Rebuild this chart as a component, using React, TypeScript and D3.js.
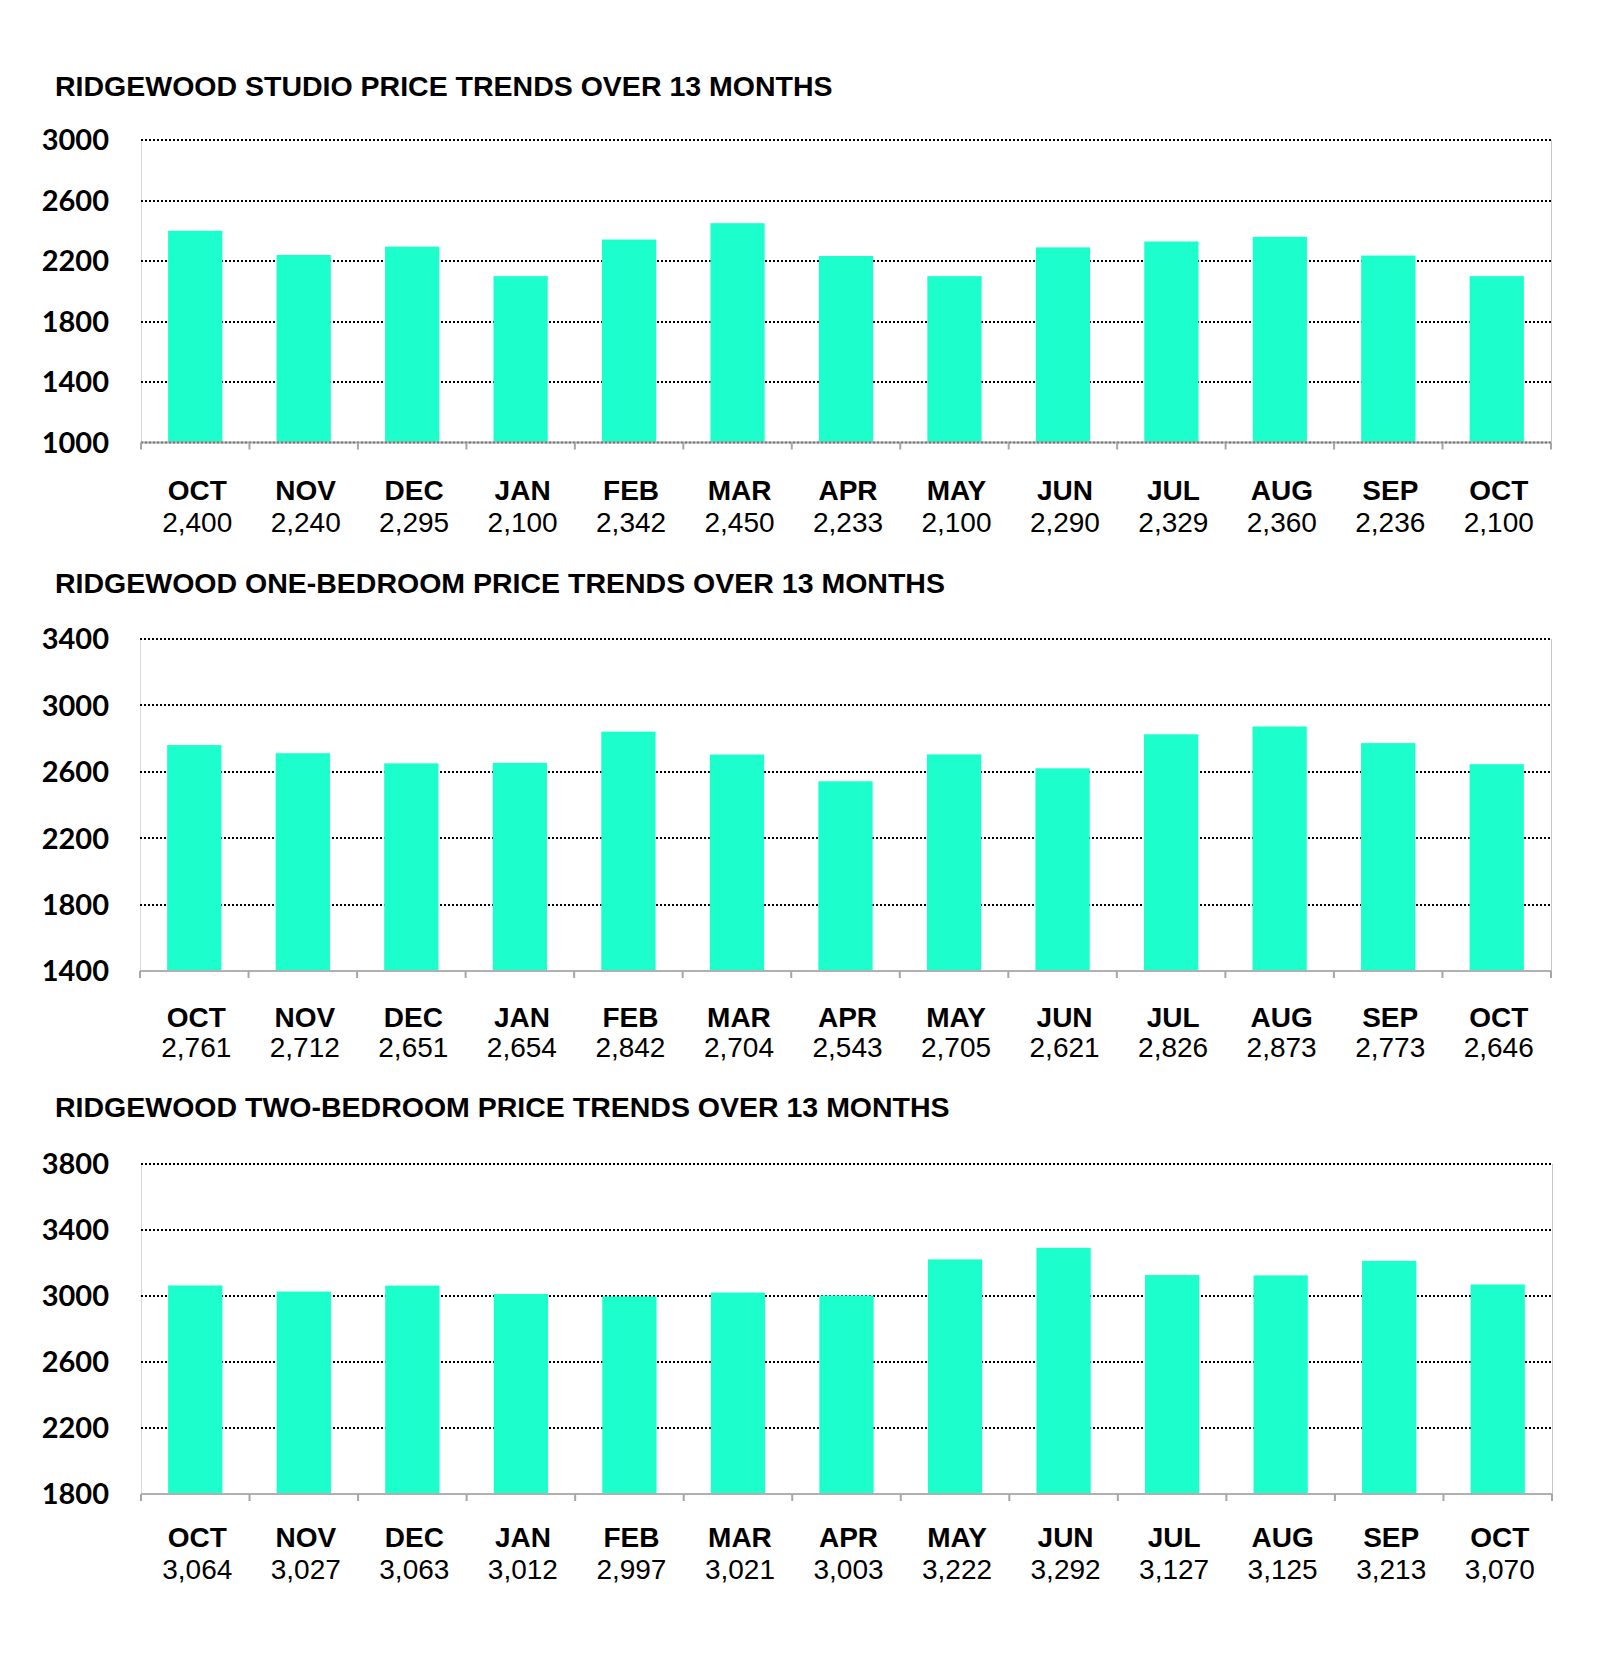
import React from "react";
import * as d3 from "d3";

const months = ["OCT", "NOV", "DEC", "JAN", "FEB", "MAR", "APR", "MAY", "JUN", "JUL", "AUG", "SEP", "OCT"];
const studioValues = [2400, 2240, 2295, 2100, 2342, 2450, 2233, 2100, 2290, 2329, 2360, 2236, 2100];
const oneBedValues = [2761, 2712, 2651, 2654, 2842, 2704, 2543, 2705, 2621, 2826, 2873, 2773, 2646];
const twoBedValues = [3064, 3027, 3063, 3012, 2997, 3021, 3003, 3222, 3292, 3127, 3125, 3213, 3070];
const studioTicks = [1000, 1400, 1800, 2200, 2600, 3000];
const oneBedTicks = [1400, 1800, 2200, 2600, 3000, 3400];
const twoBedTicks = [1800, 2200, 2600, 3000, 3400, 3800];
const titles = [
  "RIDGEWOOD STUDIO PRICE TRENDS OVER 13 MONTHS",
  "RIDGEWOOD ONE-BEDROOM PRICE TRENDS OVER 13 MONTHS",
  "RIDGEWOOD TWO-BEDROOM PRICE TRENDS OVER 13 MONTHS",
];

const BAR = "#1cffcc";
const fmt = d3.format(",");

type Cfg = {
  title: string;
  values: number[];
  ticks: number[];
  titleY: number;
  top: number;
  bottom: number;
  left: number;
  right: number;
  labelY: number;
  valueY: number;
  dottedBottom: boolean;
};

function Panel({ c }: { c: Cfg }) {
  const y = d3.scaleLinear().domain([c.ticks[0], c.ticks[c.ticks.length - 1]]).range([c.bottom, c.top]);
  const x = d3
    .scaleBand<number>()
    .domain(c.values.map((_, i) => i))
    .range([c.left, c.right])
    .paddingInner(0.5)
    .paddingOuter(0.25);
  const step = (c.right - c.left) / c.values.length;
  const bounds = d3.range(c.values.length + 1).map((i) => c.left + i * step);
  return (
    <g>
      <text x={55} y={c.titleY} fontFamily="Liberation Sans, Arial, sans-serif" fontWeight="bold" fontSize={28.5} fill="#000">
        {c.title}
      </text>
      <line x1={c.left + 0.5} x2={c.left + 0.5} y1={c.top} y2={c.bottom} stroke="#d9d9d9" strokeWidth={1} />
      <line x1={c.right + 0.5} x2={c.right + 0.5} y1={c.top} y2={c.bottom} stroke="#c8c8c8" strokeWidth={1} />
      {c.ticks.map((t, i) =>
        i === 0 ? null : (
          <line key={t} x1={c.left} x2={c.right} y1={Math.round(y(t))} y2={Math.round(y(t))} stroke="#000" strokeWidth={2} strokeDasharray="2,2" />
        )
      )}
      {c.values.map((v, i) => (
        <rect key={i} x={x(i)} y={y(v)} width={x.bandwidth()} height={c.bottom - y(v)} fill={BAR} />
      ))}
      <line x1={c.left} x2={c.right} y1={c.bottom} y2={c.bottom} stroke="#b0b0b0" strokeWidth={2} />
      {c.dottedBottom && (
        <line x1={c.left} x2={c.right} y1={c.bottom} y2={c.bottom} stroke="#777" strokeWidth={2} strokeDasharray="2,2" />
      )}
      {bounds.map((b, i) => (
        <line key={i} x1={b} x2={b} y1={c.bottom} y2={c.bottom + 7} stroke="#a6a6a6" strokeWidth={2} />
      ))}
      {c.ticks.map((t) => (
        <text
          key={t}
          x={109}
          y={y(t)}
          dy="0.36em"
          textAnchor="end"
          fontFamily="Lato, Open Sans, sans-serif"
          fontWeight="bold"
          fontSize={29}
          fill="#000"
        >
          {t}
        </text>
      ))}
      {c.values.map((v, i) => {
        const cx = (x(i) as number) + x.bandwidth() / 2 + 2;
        return (
          <g key={i}>
            <text x={cx} y={c.labelY} textAnchor="middle" fontFamily="Liberation Sans, Arial, sans-serif" fontWeight="bold" fontSize={28} fill="#000">
              {months[i]}
            </text>
            <text x={cx} y={c.valueY} textAnchor="middle" fontFamily="Liberation Sans, Arial, sans-serif" fontSize={28} fill="#000">
              {fmt(v)}
            </text>
          </g>
        );
      })}
    </g>
  );
}

export default function App() {
  const cfgs: Cfg[] = [
    { title: titles[0], values: studioValues, ticks: studioTicks, titleY: 96, top: 140, bottom: 442.5, left: 141, right: 1551, labelY: 500, valueY: 532, dottedBottom: true },
    { title: titles[1], values: oneBedValues, ticks: oneBedTicks, titleY: 593, top: 639, bottom: 971, left: 140, right: 1551, labelY: 1027, valueY: 1057, dottedBottom: false },
    { title: titles[2], values: twoBedValues, ticks: twoBedTicks, titleY: 1117, top: 1164, bottom: 1494, left: 141, right: 1552, labelY: 1547, valueY: 1579, dottedBottom: false },
  ];
  return (
    <svg width={1600} height={1659} style={{ position: "absolute", left: 0, top: 0, background: "#fff" }}>
      <rect x={0} y={0} width={1600} height={1659} fill="#fff" />
      {cfgs.map((c, i) => (
        <Panel key={i} c={c} />
      ))}
    </svg>
  );
}
